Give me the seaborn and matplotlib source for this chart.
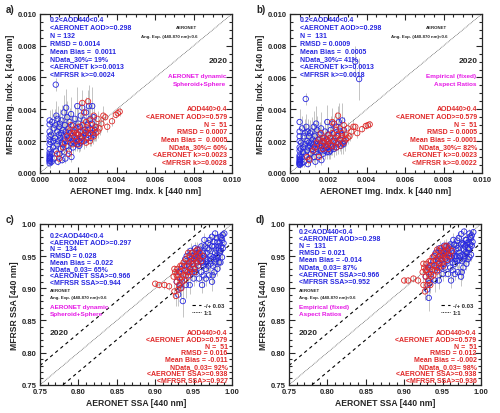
import matplotlib
matplotlib.use("Agg")
import matplotlib.pyplot as plt
from matplotlib.ticker import MultipleLocator, FormatStrFormatter
import numpy as np
import seaborn as sns

# ---------------- panel a: Img. Indx. k, AERONET dynamic Spheroid+Sphere (x 1e-3)
a_blue_x = [0.50, 0.50, 0.50, 0.50, 0.50, 0.50, 0.50, 0.50, 0.50, 0.50,
            0.50, 0.50, 0.50, 0.50, 0.50, 0.52, 0.53, 0.55, 0.58, 0.60,
            0.62, 0.63, 0.68, 0.70, 0.72, 0.74, 0.78, 0.80, 0.82, 0.83,
            0.85, 0.88, 0.90, 0.92, 0.93, 0.95, 0.98, 1.00, 1.02, 1.04,
            1.05, 1.08, 1.10, 1.12, 1.14, 1.18, 1.20, 1.22, 1.24, 1.26,
            1.28, 1.30, 1.32, 1.34, 1.36, 1.38, 1.40, 1.42, 1.44, 1.48,
            1.50, 1.52, 1.54, 1.58, 1.60, 1.62, 1.64, 1.68, 1.70, 1.72,
            1.74, 1.78, 1.80, 1.82, 1.84, 1.88, 1.90, 1.92, 1.94, 1.98,
            2.00, 2.02, 2.04, 2.08, 2.10, 2.12, 2.14, 2.18, 2.20, 2.22,
            2.28, 2.30, 2.32, 2.38, 2.40, 2.42, 2.48, 2.50, 2.55, 2.60,
            2.62, 2.65, 2.70, 2.72, 2.74, 2.78, 2.80, 2.85, 2.90, 1.15]
a_blue_y = [0.60, 0.72, 0.85, 0.95, 1.05, 1.15, 1.28, 0.78, 1.50, 1.80,
            2.10, 2.30, 2.60, 3.05, 3.30, 0.90, 1.00, 1.95, 2.40, 0.70,
            1.20, 3.20, 1.60, 2.00, 2.80, 0.90, 2.20, 3.00, 5.55, 1.40,
            3.60, 1.80, 2.60, 3.40, 0.70, 2.00, 2.40, 2.90, 1.20, 3.10,
            2.20, 1.50, 2.50, 3.30, 1.90, 2.70, 1.80, 2.30, 3.80, 1.30,
            2.10, 3.00, 0.90, 2.60, 4.10, 1.70, 2.40, 3.50, 2.00, 2.80,
            1.40, 2.20, 3.20, 2.50, 1.90, 3.70, 1.00, 2.30, 3.00, 1.60,
            2.00, 2.60, 1.90, 3.40, 2.20, 2.10, 2.80, 1.80, 4.20, 2.40,
            3.10, 2.00, 1.70, 2.90, 1.90, 3.60, 2.30, 2.20, 4.10, 2.60,
            2.00, 3.30, 2.70, 2.50, 3.80, 2.10, 3.00, 2.40, 4.20, 2.80,
            3.40, 2.20, 3.10, 4.20, 2.50, 2.40, 3.50, 2.70, 2.90, 0.80]
a_blue_err = [0.3, 0.2, 0.4, 0.3, 0.5, 0.2, 0.3, 0.4, 0.6, 0.5,
              0.7, 0.5, 0.8, 0.9, 0.6, 0.3, 0.4, 0.5, 0.7, 0.2,
              0.4, 0.8, 0.5, 0.6, 0.9, 0.3, 0.7, 1.0, 0.4, 0.5,
              0.9, 0.5, 0.7, 0.8, 0.2, 0.6, 0.7, 0.8, 0.4, 0.9,
              0.6, 0.5, 0.7, 1.0, 0.5, 0.8, 0.4, 0.6, 1.1, 0.3,
              0.5, 0.9, 0.3, 0.7, 1.2, 0.5, 0.6, 1.0, 0.5, 0.8,
              0.4, 0.6, 0.9, 0.7, 0.5, 1.1, 0.3, 0.6, 0.8, 0.4,
              0.5, 0.7, 0.5, 0.9, 0.6, 0.5, 0.8, 0.4, 1.2, 0.6,
              0.9, 0.5, 0.4, 0.8, 0.5, 1.0, 0.6, 0.5, 1.1, 0.7,
              0.5, 0.9, 0.7, 0.6, 1.0, 0.5, 0.8, 0.6, 1.3, 0.7,
              0.9, 0.5, 0.8, 1.2, 0.6, 0.6, 0.9, 0.7, 0.8, 0.2]
a_red_x = [1.20, 1.30, 1.40, 1.50, 1.50, 1.60, 1.70, 1.70, 1.80, 1.80,
           1.90, 1.90, 2.00, 2.00, 2.00, 2.10, 2.10, 2.20, 2.20, 2.30,
           2.30, 2.40, 2.40, 2.40, 2.50, 2.50, 2.50, 2.60, 2.60, 2.60,
           2.70, 2.70, 2.80, 2.80, 2.90, 2.90, 3.00, 3.00, 3.10, 3.20,
           3.30, 3.50, 3.75, 3.95, 4.05, 4.15, 3.40, 1.00, 0.90, 1.60, 2.20]
a_red_y = [1.60, 1.90, 2.30, 1.20, 2.60, 2.10, 2.50, 1.80, 2.30, 2.70,
           2.00, 2.50, 2.40, 2.90, 1.80, 2.20, 2.60, 3.00, 2.00, 2.40,
           3.80, 2.60, 1.90, 3.20, 2.80, 2.20, 4.50, 2.50, 3.30, 2.00,
           2.70, 3.00, 2.30, 3.60, 2.90, 2.50, 3.40, 2.60, 2.80, 3.10,
           3.60, 2.90, 3.25, 3.65, 3.75, 3.85, 3.50, 0.90, 1.20, 3.00, 4.40]
a_red_err = [0.2, 0.3, 0.4, 0.2, 0.5, 0.3, 0.4, 0.3, 0.5, 0.4,
             0.3, 0.5, 0.4, 0.6, 0.3, 0.4, 0.5, 0.6, 0.3, 0.4,
             0.5, 0.4, 0.3, 0.6, 0.5, 0.4, 0.7, 0.4, 0.6, 0.3,
             0.5, 0.4, 0.3, 0.6, 0.4, 0.5, 0.5, 0.4, 0.4, 0.5,
             0.6, 0.3, 0.3, 0.2, 0.2, 0.3, 0.2, 0.2, 0.3, 0.5, 0.6]

# ---------------- panel b: Img. Indx. k, Empirical (fixed) Aspect Ratios (x 1e-3)
b_blue_x = [0.50, 0.50, 0.50, 0.50, 0.50, 0.50, 0.50, 0.50, 0.50, 0.50,
            0.50, 0.50, 0.50, 0.50, 0.50, 0.52, 0.53, 0.55, 0.58, 0.60,
            0.62, 0.63, 0.68, 0.70, 0.72, 0.74, 0.78, 0.80, 0.82, 0.83,
            0.85, 0.88, 0.90, 0.92, 0.93, 0.95, 0.98, 1.00, 1.02, 1.04,
            1.05, 1.08, 1.10, 1.12, 1.14, 1.18, 1.20, 1.22, 1.24, 1.26,
            1.28, 1.30, 1.32, 1.34, 1.36, 1.38, 1.40, 1.42, 1.44, 1.48,
            1.50, 1.52, 1.54, 1.58, 1.60, 1.62, 1.64, 1.68, 1.70, 1.72,
            1.74, 1.78, 1.80, 1.82, 1.84, 1.88, 1.90, 1.92, 1.94, 1.98,
            2.00, 2.02, 2.04, 2.08, 2.10, 2.12, 2.14, 2.18, 2.20, 2.22,
            2.28, 2.30, 2.32, 2.38, 2.40, 2.42, 2.48, 2.50, 2.55, 2.60,
            2.62, 2.65, 2.70, 2.72, 2.74, 2.78, 2.80, 2.85, 3.40, 3.60]
b_blue_y = [0.50, 0.60, 0.70, 0.80, 0.90, 1.00, 1.10, 0.65, 1.40, 1.60,
            2.00, 2.30, 2.60, 3.20, 0.55, 0.75, 0.85, 1.50, 1.90, 0.60,
            1.00, 2.80, 1.30, 1.60, 2.30, 0.70, 1.80, 2.50, 4.65, 1.10,
            2.90, 1.40, 2.00, 2.60, 0.55, 1.60, 1.90, 2.30, 0.90, 2.50,
            1.70, 1.20, 1.90, 2.60, 1.50, 2.10, 1.40, 1.80, 2.90, 1.00,
            1.60, 2.30, 0.70, 2.00, 3.10, 1.30, 1.80, 2.70, 1.50, 2.10,
            1.10, 1.70, 2.40, 1.90, 1.40, 2.80, 0.80, 1.70, 2.20, 1.20,
            1.50, 2.00, 1.40, 2.60, 1.70, 1.60, 2.10, 1.30, 3.20, 1.80,
            2.40, 1.50, 1.30, 2.20, 1.40, 2.70, 1.70, 1.60, 3.10, 2.00,
            1.50, 2.50, 2.00, 1.90, 2.90, 1.60, 2.30, 1.80, 3.20, 2.10,
            2.60, 1.70, 2.40, 3.30, 1.90, 1.80, 2.70, 2.00, 7.00, 5.90]
b_blue_err = [0.2, 0.2, 0.3, 0.3, 0.4, 0.2, 0.3, 0.3, 0.5, 0.5,
              0.6, 0.5, 0.7, 0.8, 0.2, 0.3, 0.3, 0.5, 0.6, 0.2,
              0.4, 0.8, 0.5, 0.6, 0.8, 0.3, 0.6, 0.9, 0.4, 0.5,
              0.8, 0.5, 0.6, 0.8, 0.2, 0.6, 0.6, 0.8, 0.4, 0.8,
              0.5, 0.5, 0.6, 0.9, 0.5, 0.7, 0.4, 0.6, 1.0, 0.3,
              0.5, 0.8, 0.3, 0.6, 1.1, 0.5, 0.6, 0.9, 0.5, 0.7,
              0.4, 0.6, 0.8, 0.6, 0.5, 1.0, 0.3, 0.6, 0.7, 0.4,
              0.5, 0.6, 0.5, 0.8, 0.6, 0.5, 0.7, 0.4, 1.1, 0.6,
              0.8, 0.5, 0.4, 0.7, 0.5, 0.9, 0.6, 0.5, 1.0, 0.6,
              0.5, 0.8, 0.6, 0.6, 0.9, 0.5, 0.7, 0.6, 1.2, 0.6,
              0.8, 0.5, 0.7, 1.1, 0.6, 0.6, 0.8, 0.6, 1.0, 1.3]
b_red_x = [1.20, 1.30, 1.40, 1.50, 1.50, 1.60, 1.70, 1.70, 1.80, 1.80,
           1.90, 1.90, 2.00, 2.00, 2.00, 2.10, 2.10, 2.20, 2.20, 2.30,
           2.30, 2.40, 2.40, 2.40, 2.50, 2.50, 2.50, 2.60, 2.60, 2.60,
           2.70, 2.70, 2.80, 2.80, 2.90, 2.90, 3.00, 3.00, 3.10, 3.20,
           3.30, 3.50, 3.75, 3.95, 4.05, 4.15, 3.40, 1.00, 0.90, 1.60, 2.20]
b_red_y = [1.40, 1.60, 1.90, 1.00, 2.10, 1.70, 2.00, 1.50, 1.90, 2.20,
           1.70, 2.10, 2.00, 2.40, 1.50, 1.80, 2.20, 2.50, 1.70, 2.00,
           3.10, 2.20, 1.60, 2.70, 2.40, 1.90, 3.60, 2.10, 2.80, 1.70,
           2.30, 2.50, 1.90, 3.00, 2.40, 2.10, 2.80, 2.20, 2.30, 2.60,
           2.90, 2.50, 2.75, 2.95, 3.00, 3.05, 2.90, 0.80, 1.00, 2.50, 3.20]
b_red_err = [0.2, 0.3, 0.3, 0.2, 0.4, 0.3, 0.4, 0.3, 0.4, 0.4,
             0.3, 0.4, 0.4, 0.5, 0.3, 0.4, 0.4, 0.5, 0.3, 0.4,
             0.5, 0.4, 0.3, 0.5, 0.4, 0.4, 0.6, 0.4, 0.5, 0.3,
             0.4, 0.4, 0.3, 0.5, 0.4, 0.4, 0.4, 0.4, 0.3, 0.4,
             0.5, 0.3, 0.2, 0.2, 0.2, 0.2, 0.2, 0.2, 0.3, 0.4, 0.5]

# ---------------- panel c: SSA, AERONET dynamic Spheroid+Sphere
c_blue_x = [0.985, 0.987, 0.984, 0.986, 0.988, 0.983, 0.980, 0.978, 0.982, 0.985,
            0.976, 0.974, 0.972, 0.975, 0.977, 0.979, 0.981, 0.970, 0.968, 0.966,
            0.964, 0.962, 0.960, 0.963, 0.965, 0.958, 0.956, 0.955, 0.953, 0.951,
            0.950, 0.948, 0.946, 0.945, 0.943, 0.941, 0.940, 0.938, 0.936, 0.935,
            0.933, 0.931, 0.930, 0.928, 0.945, 0.948, 0.952, 0.957, 0.960, 0.962,
            0.967, 0.969, 0.971, 0.973, 0.975, 0.978, 0.980, 0.982, 0.984, 0.987,
            0.989, 0.990, 0.986, 0.983, 0.979, 0.976, 0.972, 0.968, 0.965, 0.963,
            0.959, 0.957, 0.954, 0.950, 0.947, 0.944, 0.942, 0.939, 0.934, 0.932,
            0.970, 0.974, 0.966, 0.961, 0.958, 0.955, 0.953, 0.949, 0.964, 0.967,
            0.977, 0.981, 0.985, 0.988, 0.978, 0.974, 0.969, 0.960, 0.952, 0.946]
c_blue_y = [0.980, 0.975, 0.970, 0.965, 0.983, 0.960, 0.978, 0.955, 0.948, 0.940,
            0.972, 0.965, 0.950, 0.935, 0.925, 0.945, 0.930, 0.960, 0.945, 0.930,
            0.975, 0.955, 0.940, 0.920, 0.965, 0.950, 0.935, 0.960, 0.925, 0.945,
            0.915, 0.955, 0.940, 0.930, 0.920, 0.950, 0.905, 0.935, 0.880, 0.915,
            0.900, 0.925, 0.890, 0.910, 0.905, 0.925, 0.930, 0.915, 0.925, 0.940,
            0.955, 0.935, 0.975, 0.945, 0.920, 0.940, 0.950, 0.965, 0.955, 0.948,
            0.970, 0.985, 0.978, 0.940, 0.960, 0.948, 0.938, 0.962, 0.945, 0.935,
            0.945, 0.955, 0.940, 0.950, 0.945, 0.935, 0.925, 0.945, 0.930, 0.905,
            0.920, 0.910, 0.915, 0.905, 0.960, 0.948, 0.952, 0.938, 0.950, 0.940,
            0.965, 0.972, 0.958, 0.962, 0.985, 0.980, 0.970, 0.965, 0.962, 0.958]
c_blue_err = [8, 10, 6, 12, 7, 9, 11, 8, 14, 10,
              9, 12, 15, 10, 8, 13, 11, 9, 16, 12,
              10, 14, 9, 18, 11, 13, 10, 12, 15, 9,
              12, 11, 14, 10, 9, 13, 20, 12, 25, 11,
              15, 13, 18, 10, 14, 12, 9, 11, 13, 10,
              8, 12, 9, 11, 14, 10, 8, 7, 9, 11,
              6, 5, 8, 12, 9, 10, 13, 8, 11, 12,
              10, 9, 12, 8, 11, 13, 10, 9, 14, 16,
              12, 15, 11, 13, 8, 10, 9, 12, 10, 11,
              8, 7, 9, 6, 5, 6, 8, 9, 10, 12]
c_red_x = [0.900, 0.905, 0.912, 0.918, 0.925, 0.928, 0.926, 0.924, 0.930, 0.929,
           0.932, 0.931, 0.933, 0.935, 0.934, 0.936, 0.937, 0.938, 0.939, 0.940,
           0.941, 0.942, 0.943, 0.944, 0.945, 0.946, 0.947, 0.948, 0.949, 0.950,
           0.951, 0.952, 0.953, 0.954, 0.955, 0.956, 0.957, 0.958, 0.960, 0.962,
           0.927, 0.930, 0.935, 0.940, 0.945, 0.950, 0.925, 0.928, 0.933, 0.943, 0.955]
c_red_y = [0.907, 0.905, 0.905, 0.903, 0.895, 0.910, 0.925, 0.918, 0.920, 0.930,
           0.915, 0.905, 0.925, 0.935, 0.900, 0.920, 0.940, 0.912, 0.928, 0.945,
           0.935, 0.925, 0.918, 0.940, 0.950, 0.930, 0.942, 0.955, 0.938, 0.945,
           0.925, 0.948, 0.958, 0.940, 0.950, 0.935, 0.945, 0.955, 0.942, 0.950,
           0.888, 0.898, 0.910, 0.920, 0.925, 0.930, 0.930, 0.920, 0.935, 0.955, 0.960]
c_red_err = [4, 5, 6, 5, 12, 8, 9, 6, 10, 7,
             11, 9, 8, 10, 14, 9, 7, 12, 8, 9,
             10, 8, 11, 7, 9, 10, 8, 6, 9, 7,
             12, 8, 6, 9, 7, 10, 8, 6, 9, 7,
             15, 13, 10, 9, 8, 7, 6, 8, 9, 6, 5]

# ---------------- panel d: SSA, Empirical (fixed) Aspect Ratios
d_blue_x = [0.985, 0.987, 0.984, 0.986, 0.988, 0.983, 0.980, 0.978, 0.982, 0.985,
            0.976, 0.974, 0.972, 0.975, 0.977, 0.979, 0.981, 0.970, 0.968, 0.966,
            0.964, 0.962, 0.960, 0.963, 0.965, 0.958, 0.956, 0.955, 0.953, 0.951,
            0.950, 0.948, 0.946, 0.945, 0.943, 0.941, 0.940, 0.938, 0.932, 0.935,
            0.933, 0.931, 0.930, 0.928, 0.945, 0.948, 0.952, 0.957, 0.960, 0.962,
            0.967, 0.969, 0.971, 0.973, 0.975, 0.978, 0.980, 0.982, 0.984, 0.987,
            0.989, 0.990, 0.986, 0.983, 0.979, 0.976, 0.972, 0.968, 0.965, 0.963,
            0.959, 0.957, 0.954, 0.950, 0.947, 0.944, 0.942, 0.939, 0.934, 0.932,
            0.970, 0.974, 0.966, 0.961, 0.958, 0.955, 0.953, 0.949, 0.964, 0.967,
            0.977, 0.981, 0.985, 0.988, 0.978, 0.974, 0.969, 0.960, 0.952, 0.946]
d_blue_y = [0.985, 0.978, 0.972, 0.968, 0.982, 0.962, 0.975, 0.960, 0.955, 0.948,
            0.970, 0.968, 0.955, 0.942, 0.932, 0.950, 0.938, 0.962, 0.950, 0.938,
            0.975, 0.958, 0.945, 0.928, 0.968, 0.955, 0.942, 0.965, 0.932, 0.950,
            0.922, 0.958, 0.945, 0.938, 0.928, 0.955, 0.912, 0.942, 0.885, 0.922,
            0.908, 0.932, 0.898, 0.918, 0.912, 0.932, 0.938, 0.922, 0.932, 0.948,
            0.960, 0.942, 0.978, 0.950, 0.925, 0.946, 0.956, 0.970, 0.960, 0.952,
            0.972, 0.987, 0.980, 0.945, 0.965, 0.952, 0.944, 0.966, 0.950, 0.940,
            0.950, 0.960, 0.946, 0.955, 0.950, 0.942, 0.932, 0.950, 0.936, 0.912,
            0.925, 0.918, 0.922, 0.912, 0.965, 0.954, 0.958, 0.944, 0.955, 0.946,
            0.968, 0.975, 0.962, 0.966, 0.988, 0.984, 0.974, 0.968, 0.966, 0.962]
d_blue_err = [7, 9, 6, 11, 7, 9, 10, 8, 13, 9,
              9, 11, 14, 10, 8, 12, 10, 9, 15, 11,
              10, 13, 9, 17, 10, 12, 10, 11, 14, 9,
              11, 10, 13, 10, 9, 12, 18, 11, 20, 11,
              14, 12, 17, 10, 13, 11, 9, 10, 12, 10,
              8, 11, 9, 10, 13, 10, 8, 7, 9, 10,
              6, 5, 7, 11, 9, 10, 12, 8, 10, 11,
              10, 9, 11, 8, 10, 12, 10, 9, 13, 15,
              11, 14, 10, 12, 8, 10, 9, 11, 10, 10,
              8, 7, 8, 6, 5, 6, 8, 9, 9, 11]
d_red_x = [0.900, 0.905, 0.912, 0.918, 0.925, 0.928, 0.926, 0.924, 0.930, 0.929,
           0.932, 0.931, 0.933, 0.935, 0.934, 0.936, 0.937, 0.938, 0.939, 0.940,
           0.941, 0.942, 0.943, 0.944, 0.945, 0.946, 0.947, 0.948, 0.949, 0.950,
           0.951, 0.952, 0.953, 0.954, 0.955, 0.956, 0.957, 0.958, 0.960, 0.962,
           0.927, 0.930, 0.935, 0.940, 0.945, 0.950, 0.925, 0.928, 0.933, 0.943, 0.955]
d_red_y = [0.912, 0.912, 0.915, 0.912, 0.905, 0.918, 0.932, 0.925, 0.928, 0.938,
           0.922, 0.912, 0.932, 0.942, 0.905, 0.928, 0.948, 0.920, 0.936, 0.952,
           0.944, 0.934, 0.926, 0.948, 0.958, 0.938, 0.950, 0.962, 0.946, 0.952,
           0.935, 0.956, 0.965, 0.948, 0.958, 0.944, 0.952, 0.962, 0.950, 0.958,
           0.895, 0.905, 0.918, 0.928, 0.932, 0.940, 0.938, 0.928, 0.942, 0.960, 0.966]
d_red_err = [4, 5, 6, 5, 11, 8, 9, 6, 10, 7,
             10, 9, 8, 10, 13, 9, 7, 11, 8, 9,
             10, 8, 10, 7, 9, 10, 8, 6, 9, 7,
             11, 8, 6, 9, 7, 10, 8, 6, 9, 7,
             14, 12, 10, 9, 8, 7, 6, 8, 9, 6, 5]

k_ticks = [0.000, 0.002, 0.004, 0.006, 0.008, 0.010]
ssa_ticks = [0.75, 0.80, 0.85, 0.90, 0.95, 1.00]
ssa_band = 0.03

a_blue_text = ["0.2<AOD440<0.4", "<AERONET AOD>=0.298", "N = 132", "RMSD = 0.0014",
               "Mean Bias =  0.0011", "NData_30%= 19%", "<AERONET k>=0.0013", "<MFRSR k>=0.0024"]
a_red_text = ["AOD440>0.4", "<AERONET AOD>=0.579", "N =  51", "RMSD = 0.0007",
              "Mean Bias =  0.0005", "NData_30%= 60%", "<AERONET k>=0.0023", "<MFRSR k>=0.0028"]
b_blue_text = ["0.2<AOD440<0.4", "<AERONET AOD>=0.298", "N =  131", "RMSD = 0.0009",
               "Mean Bias =  0.0005", "NData_30%= 41%", "<AERONET k>=0.0013", "<MFRSR k>=0.0018"]
b_red_text = ["AOD440>0.4", "<AERONET AOD>=0.579", "N =  51", "RMSD = 0.0005",
              "Mean Bias = -0.0001", "NData_30%= 82%", "<AERONET k>=0.0023", "<MFRSR k>=0.0022"]
c_blue_text = ["0.2<AOD440<0.4", "<AERONET AOD>=0.297", "N =  134", "RMSD = 0.028",
               "Mean Bias = -0.022", "NData_0.03= 65%", "<AERONET SSA>=0.966", "<MFRSR SSA>=0.944"]
c_red_text = ["AOD440>0.4", "<AERONET AOD>=0.579", "N =  51", "RMSD = 0.016",
              "Mean Bias = -0.011", "NData_0.03= 92%", "<AERONET SSA>=0.938", "<MFRSR SSA>=0.927"]
d_blue_text = ["0.2<AOD440<0.4", "<AERONET AOD>=0.298", "N =  131", "RMSD = 0.021",
               "Mean Bias = -0.014", "NData_0.03= 87%", "<AERONET SSA>=0.966", "<MFRSR SSA>=0.952"]
d_red_text = ["AOD440>0.4", "<AERONET AOD>=0.579", "N =  51", "RMSD = 0.012",
              "Mean Bias = -0.002", "NData_0.03= 98%", "<AERONET SSA>=0.938", "<MFRSR SSA>=0.936"]
method_dynamic = ["AERONET dynamic", "Spheroid+Sphere"]
method_fixed = ["Empirical (fixed)", "Aspect Ratios"]
source_text = ["AERONET", "Ang. Exp. (440-870 nm)<0.6"]
year = "2020"

BLUE = "#2828e0"
RED = "#e02828"
MAG = "#e619e6"
GREY = "#c4c4c4"

sns.set_style("ticks")
plt.rcParams['font.family'] = ['Liberation Sans', 'DejaVu Sans']
plt.rcParams['font.weight'] = 'bold'
plt.rcParams['axes.labelweight'] = 'bold'
plt.rcParams['axes.linewidth'] = 0.9

fig = plt.figure(figsize=(5, 4.14), dpi=100)
ax_a = fig.add_axes([0.080, 0.580, 0.384, 0.384])
ax_b = fig.add_axes([0.580, 0.580, 0.384, 0.384])
ax_c = fig.add_axes([0.080, 0.068, 0.384, 0.389])
ax_d = fig.add_axes([0.578, 0.068, 0.384, 0.389])


def scatter_panel(ax, bx, by, be, rx, ry, re, scale, err_scale):
    bx, by, be = np.array(bx) * scale, np.array(by) * scale, np.array(be) * err_scale
    rx, ry, re = np.array(rx) * scale, np.array(ry) * scale, np.array(re) * err_scale
    ax.vlines(bx, by - be, by + be, color=GREY, lw=0.7, zorder=1)
    ax.vlines(rx, ry - re, ry + re, color=GREY, lw=0.7, zorder=1)
    sns.scatterplot(x=bx, y=by, ax=ax, color=BLUE, facecolor='none', edgecolor=BLUE,
                    s=15, linewidth=0.6, zorder=3, legend=False)
    sns.scatterplot(x=rx, y=ry, ax=ax, color=RED, facecolor='none', edgecolor=RED,
                    s=15, linewidth=0.6, zorder=4, legend=False)


def style_axes(ax, ticks, fmt, minor, xlabel, ylabel):
    ax.set_xlim(ticks[0], ticks[-1])
    ax.set_ylim(ticks[0], ticks[-1])
    ax.set_xticks(ticks)
    ax.set_yticks(ticks)
    ax.xaxis.set_major_formatter(FormatStrFormatter(fmt))
    ax.yaxis.set_major_formatter(FormatStrFormatter(fmt))
    ax.xaxis.set_minor_locator(MultipleLocator(minor))
    ax.yaxis.set_minor_locator(MultipleLocator(minor))
    ax.tick_params(which='both', direction='in', top=True, right=True, width=0.8,
                   labelsize=5.5, pad=2.5)
    ax.tick_params(which='major', length=4)
    ax.tick_params(which='minor', length=2)
    ax.set_xlabel(xlabel, fontsize=6.2, labelpad=2)
    ax.set_ylabel(ylabel, fontsize=6.2, labelpad=2)
    for lab in ax.get_xticklabels() + ax.get_yticklabels():
        lab.set_fontweight('bold')


def block(ax, x, y, lines, color, ha='left', size=5, spacing=1.15):
    ax.text(x, y, "\n".join(lines), transform=ax.transAxes, ha=ha, va='top',
            color=color, fontsize=size, fontweight='bold', linespacing=spacing,
            multialignment=ha, zorder=6)


# ---- k panels
for ax, data, btxt, rtxt, meth in [
        (ax_a, (a_blue_x, a_blue_y, a_blue_err, a_red_x, a_red_y, a_red_err), a_blue_text, a_red_text, method_dynamic),
        (ax_b, (b_blue_x, b_blue_y, b_blue_err, b_red_x, b_red_y, b_red_err), b_blue_text, b_red_text, method_fixed)]:
    ax.axline((k_ticks[0], k_ticks[0]), slope=1, color='#606060', lw=0.6, ls=(0, (1, 1)), zorder=2)
    scatter_panel(ax, *data, scale=1e-3, err_scale=1e-3)
    style_axes(ax, k_ticks, '%.3f', 0.0005, "AERONET Img. Indx. k [440 nm]", "MFRSR Img. Indx. k [440 nm]")
    block(ax, 0.05, 0.985, btxt, BLUE, spacing=1.17)
    ax.text(0.82, 0.918, source_text[0], transform=ax.transAxes, ha='right', va='center', fontsize=3.2)
    ax.text(0.82, 0.864, source_text[1], transform=ax.transAxes, ha='right', va='center', fontsize=3.2)
    ax.text(0.975, 0.71, year, transform=ax.transAxes, ha='right', va='center', fontsize=6)
    ax.text(0.97, 0.61, meth[0], transform=ax.transAxes, ha='right', va='center', fontsize=4.6, color=MAG)
    ax.text(0.97, 0.56, meth[1], transform=ax.transAxes, ha='right', va='center', fontsize=4.6, color=MAG)
    block(ax, 0.975, 0.425, rtxt, RED, ha='right', spacing=1.12)

# ---- SSA panels
for ax, data, btxt, rtxt, meth, btop, bsp in [
        (ax_c, (c_blue_x, c_blue_y, c_blue_err, c_red_x, c_red_y, c_red_err), c_blue_text, c_red_text, method_dynamic, 0.95, 0.95),
        (ax_d, (d_blue_x, d_blue_y, d_blue_err, d_red_x, d_red_y, d_red_err), d_blue_text, d_red_text, method_fixed, 0.975, 1.03)]:
    ax.axline((ssa_ticks[0], ssa_ticks[0] + ssa_band), slope=1, color='k', lw=0.8, ls=(0, (3, 3)), zorder=2,
              label="-/+ 0.03")
    ax.axline((ssa_ticks[0], ssa_ticks[0] - ssa_band), slope=1, color='k', lw=0.8, ls=(0, (3, 3)), zorder=2)
    ax.axline((ssa_ticks[0], ssa_ticks[0]), slope=1, color='#606060', lw=0.6, ls=(0, (1, 1)), zorder=2,
              label="1:1")
    scatter_panel(ax, *data, scale=1, err_scale=1e-3)
    style_axes(ax, ssa_ticks, '%.2f', 0.01, "AERONET SSA [440 nm]", "MFRSR SSA [440 nm]")
    block(ax, 0.05, btop, btxt, BLUE, spacing=bsp)
    ax.text(0.05, 0.588, source_text[0], transform=ax.transAxes, ha='left', va='center', fontsize=3.2)
    ax.text(0.05, 0.547, source_text[1], transform=ax.transAxes, ha='left', va='center', fontsize=3.2)
    ax.text(0.05, 0.486, meth[0], transform=ax.transAxes, ha='left', va='center', fontsize=4.6, color=MAG)
    ax.text(0.05, 0.445, meth[1], transform=ax.transAxes, ha='left', va='center', fontsize=4.6, color=MAG)
    ax.text(0.05, 0.325, year, transform=ax.transAxes, ha='left', va='center', fontsize=6)
    block(ax, 0.977, 0.348, rtxt, RED, ha='right', spacing=0.97)
    leg = ax.legend(loc='upper left', bbox_to_anchor=(0.79, 0.51), frameon=False, fontsize=4.2,
                    handlelength=1.6, handletextpad=0.5, labelspacing=0.3, borderpad=0, borderaxespad=0)
    for t in leg.get_texts():
        t.set_fontweight('bold')
    for h in leg.get_lines():
        h.set_color('k')

for ax, lab, xy in [(ax_a, "a)", (0.012, 0.975)), (ax_b, "b)", (0.512, 0.975)),
                    (ax_c, "c)", (0.012, 0.468)), (ax_d, "d)", (0.512, 0.468))]:
    fig.text(xy[0], xy[1], lab, fontsize=7, fontweight='bold', va='center', ha='left')

fig.savefig("out.png", dpi=100)
